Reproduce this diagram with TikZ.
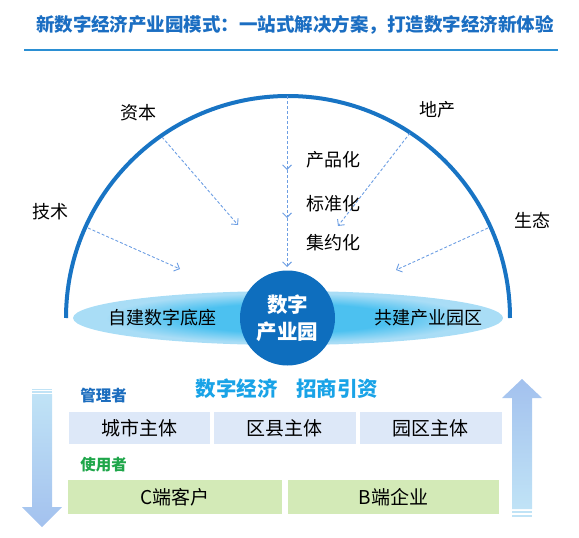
\documentclass[tikz,border=0pt]{standalone}
\usepackage{fontspec}
\setmainfont{Noto Sans CJK SC}
\usetikzlibrary{arrows.meta}
\definecolor{titleblue}{HTML}{1B6EC2}
\definecolor{lineblue}{HTML}{2B8FD3}
\definecolor{arcblue}{HTML}{1874C4}
\definecolor{dashblue}{HTML}{6C9EE3}
\definecolor{circblue}{HTML}{0E6EBE}
\definecolor{ellout}{HTML}{A9DDF6}
\definecolor{ellin}{HTML}{4CC1F0}
\definecolor{cyantext}{HTML}{19A3E7}
\definecolor{mgrblue}{HTML}{1C6DBE}
\definecolor{usegreen}{HTML}{1FA64A}
\definecolor{boxblue}{HTML}{DDE8F8}
\definecolor{boxgreen}{HTML}{D3EAB7}
\definecolor{arrlight}{HTML}{C0E3F6}
\definecolor{arrdark}{HTML}{A3C1EE}
\pgfdeclareradialshading{ellshade}{\pgfpoint{0bp}{0bp}}{color(0bp)=(ellin); color(14bp)=(ellin); color(24bp)=(ellout); color(50bp)=(ellout)}
\begin{document}
\begin{tikzpicture}[x=1pt,y=-1pt,
  lbl/.style={font=\fontsize{18}{18}\selectfont, text=black, inner sep=0},
  boxlbl/.style={font=\fontsize{19}{19}\selectfont, text=black, inner sep=0},
  flow/.style={dashblue, line width=0.9pt, dash pattern=on 3pt off 2pt, -{Straight Barb[length=4.5pt,width=9pt]}},
  role/.style={font=\bfseries\fontsize{15.5}{15.5}\selectfont, inner sep=0},
  bluebox/.style={fill=boxblue, draw=none},
  greenbox/.style={fill=boxgreen, draw=none}]
\useasboundingbox (0,0) rectangle (579,538);

% title
\node[font=\bfseries\fontsize{18.5}{20}\selectfont, text=titleblue, inner sep=0] (title) at (295,25) {新数字经济产业园模式：一站式解决方案，打造数字经济新体验};
\draw[lineblue, line width=2.2] (24,50) -- (558,50);

% ellipse base
\fill[ellout] (288,318) ellipse[x radius=215, y radius=27];
\shade[shading=ellshade] (288,318) ellipse[x radius=190, y radius=26];

% arc
\draw[arcblue, line width=4] (66,318) arc[start angle=180, end angle=360, radius=222];

% arc points and targets
\coordinate (sT) at (88,228);
\coordinate (sZ) at (162,137);
\coordinate (sTop) at (287,96);
\coordinate (sD) at (410,133);
\coordinate (sS) at (488,228);
\coordinate (eT) at (180,269);
\coordinate (eZ) at (238,225);
\coordinate (v1) at (287,170);
\coordinate (v2) at (287,218);
\coordinate (v3) at (287,267);
\coordinate (eD) at (338,226);
\coordinate (eS) at (396,270);

\draw[flow] (sT) -- (eT);
\draw[flow] (sZ) -- (eZ);
\draw[flow] (sTop) -- (v1);
\draw[flow] (v1) -- (v2);
\draw[flow] (v2) -- (v3);
\draw[flow] (sD) -- (eD);
\draw[flow] (sS) -- (eS);

% labels around arc
\node[lbl] (jishu) at (50,212) {技术};
\node[lbl] (ziben) at (138,113) {资本};
\node[lbl] (dichan) at (437,110) {地产};
\node[lbl] (shengtai) at (532,220) {生态};
\node[lbl] (cp) at (333,160) {产品化};
\node[lbl] (bz) at (333,204) {标准化};
\node[lbl] (jy) at (333,243) {集约化};

% ellipse labels
\node[lbl] (zj) at (162,318) {自建数字底座};
\node[lbl] (gj) at (428,318) {共建产业园区};

% centre circle
\node[circle, fill=circblue, minimum size=95, inner sep=0, align=center, text=white,
      font=\bfseries\fontsize{20.5}{27}\selectfont] (park) at (287.5,318) {数字\\产业园};

% bottom section
\node[font=\bfseries\fontsize{20.5}{21}\selectfont, text=cyantext, inner sep=0] (zs) at (287,389) {数字经济\hspace{0.9em}招商引资};
\node[role, text=mgrblue] (mgr) at (103.5,396) {管理者};
\node[role, text=usegreen] (usr) at (103.5,465) {使用者};

\node[bluebox, minimum width=141, minimum height=32.7, inner sep=0] (b1) at (139.75,428) {};
\node[bluebox, minimum width=141.8, minimum height=32.7, inner sep=0] (b2) at (284.6,428) {};
\node[bluebox, minimum width=142.2, minimum height=32.7, inner sep=0] (b3) at (430.7,428) {};
\node[boxlbl] at (b1) {城市主体};
\node[boxlbl] at (b2) {区县主体};
\node[boxlbl] at (b3) {园区主体};

\node[greenbox, minimum width=214.7, minimum height=33.4, inner sep=0] (g1) at (174.85,497.1) {};
\node[greenbox, minimum width=211.3, minimum height=33.4, inner sep=0] (g2) at (393.35,497.1) {};
\node[boxlbl] at (g1) {C端客户};
\node[boxlbl] at (g2) {B端企业};

% left down arrow
\shade[top color=arrlight, bottom color=arrdark]
  (32,394) -- (52,394) -- (52,507) -- (62,507) -- (42,527) -- (22,507) -- (32,507) -- cycle;
\fill[arrlight] (32,388.6) rectangle (52,389.6);
\fill[arrlight] (32,391.2) rectangle (52,392.6);

% right up arrow
\shade[top color=arrdark, bottom color=arrlight]
  (512,509) -- (532,509) -- (532,398) -- (542,398) -- (522,379) -- (502,398) -- (512,398) -- cycle;
\fill[arrlight] (512,511) rectangle (532,513);
\fill[arrlight] (512,515) rectangle (532,516.5);
\end{tikzpicture}
\end{document}
